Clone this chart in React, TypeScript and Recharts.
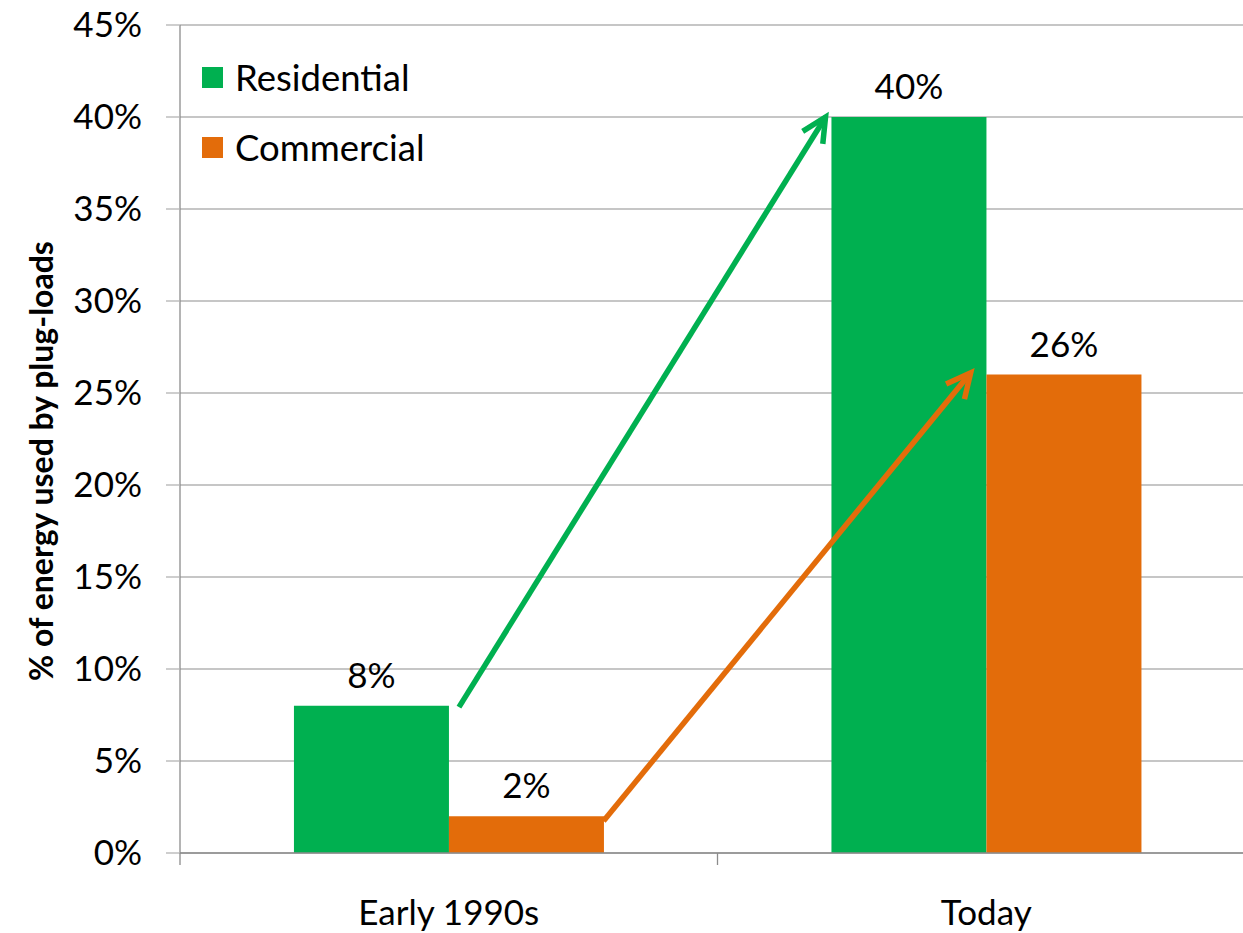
import React from 'react';
import {
  BarChart,
  Bar,
  ScatterChart,
  XAxis,
  YAxis,
  CartesianGrid,
  Legend,
  LabelList,
  ReferenceLine,
} from 'recharts';

const categories = ['Early 1990s', 'Today'];
const seriesNames = ['Residential', 'Commercial'];
const residential = [8, 40];
const commercial = [2, 26];
const yTicks = [0, 5, 10, 15, 20, 25, 30, 35, 40, 45];
const boundaryTicks = [0, 1, 2];
// arrow annotations, in data units (x: category position 0..2, y: percent)
const residentialArrow = [
  { x: 0.519, y: 7.93 },
  { x: 1.201, y: 40 },
];
const commercialArrow = [
  { x: 0.788, y: 1.74 },
  { x: 1.471, y: 26.1 },
];

const GREEN = '#00B050';
const ORANGE = '#E36C0A';
const FONT = 'Lato, "Open Sans", sans-serif';
const FS = 35;
const W = 1262;
const H = 933;
const MARGIN = { top: 25, right: 7, bottom: 0, left: 0 };
const Y_W = 180;
const X_H = 80;

const data = categories.map((c, i) => ({
  period: c,
  residential: residential[i],
  commercial: commercial[i],
}));

const makeArrow = (color: string) => (props: any) => {
  const { x1, y1, x2, y2 } = props;
  if ([x1, y1, x2, y2].some((v) => typeof v !== 'number' || isNaN(v))) return null;
  const ang = Math.atan2(y2 - y1, x2 - x1);
  const L = 27;
  const a = (26 * Math.PI) / 180;
  const p1x = x2 - L * Math.cos(ang - a);
  const p1y = y2 - L * Math.sin(ang - a);
  const p2x = x2 - L * Math.cos(ang + a);
  const p2y = y2 - L * Math.sin(ang + a);
  return (
    <g>
      <line x1={x1} y1={y1} x2={x2} y2={y2} stroke={color} strokeWidth={5.5} />
      <polyline
        points={`${p1x},${p1y} ${x2},${y2} ${p2x},${p2y}`}
        fill="none"
        stroke={color}
        strokeWidth={5.5}
        strokeLinejoin="miter"
      />
    </g>
  );
};

const renderLegend = (props: any) => {
  const payload = [...(props.payload || [])].sort(
    (a: any, b: any) => seriesNames.indexOf(a.value) - seriesNames.indexOf(b.value)
  );
  return (
    <div style={{ fontFamily: FONT, fontSize: 36.5, color: '#000' }}>
      {payload.map((p: any) => (
        <div
          key={p.value}
          style={{ display: 'flex', alignItems: 'center', height: 70, whiteSpace: 'nowrap' }}
        >
          <span
            style={{
              display: 'inline-block',
              width: 21,
              height: 21,
              background: p.color,
              marginRight: 12,
            }}
          />
          <span>{p.value}</span>
        </div>
      ))}
    </div>
  );
};

const renderYLabel = (props: any) => {
  const vb = props.viewBox || {};
  const cx = (vb.x ?? 0) + 40;
  const cy = (vb.y ?? 0) + (vb.height ?? 0) / 2 + 22;
  return (
    <text
      x={cx}
      y={cy}
      transform={`rotate(-90 ${cx} ${cy})`}
      textAnchor="middle"
      dominantBaseline="central"
      fontFamily={FONT}
      fontWeight="bold"
      fontSize={32}
      fill="#000"
    >
      % of energy used by plug-loads
    </text>
  );
};

const EmptyTick = () => <g />;

export default function App() {
  return (
    <div
      style={{
        position: 'absolute',
        left: 0,
        top: 0,
        width: 1243,
        height: 933,
        overflow: 'hidden',
        background: '#fff',
      }}
    >
      <div style={{ position: 'absolute', left: 0, top: 0 }}>
        <BarChart
          width={W}
          height={H}
          data={data}
          margin={MARGIN}
          barCategoryGap="21.2%"
          barGap={0}
        >
          <CartesianGrid vertical={false} stroke="#b3b3b3" strokeWidth={1.3} />
          <XAxis
            dataKey="period"
            type="category"
            axisLine={{ stroke: '#8c8c8c', strokeWidth: 1.3 }}
            tickLine={false}
            tickSize={0}
            tickMargin={47}
            height={X_H}
            tick={{ fill: '#000', fontSize: FS, fontFamily: FONT }}
          />
          <YAxis
            width={Y_W}
            domain={[0, 45]}
            ticks={yTicks}
            allowDataOverflow
            tickFormatter={(v: number) => `${v}%`}
            tick={{ fill: '#000', fontSize: FS, fontFamily: FONT }}
            tickLine={{ stroke: '#b3b3b3', strokeWidth: 1.3 }}
            tickSize={14}
            tickMargin={24}
            axisLine={{ stroke: '#8c8c8c', strokeWidth: 1.3 }}
            label={{ content: renderYLabel }}
          />
          <Legend
            layout="horizontal"
            verticalAlign="middle"
            align="center"
            content={renderLegend}
            wrapperStyle={{ left: 202, top: 42, width: 'auto', height: 'auto' }}
          />
          <Bar dataKey="residential" name="Residential" fill={GREEN} isAnimationActive={false}>
            <LabelList
              dataKey="residential"
              position="top"
              offset={18}
              formatter={(v: any) => `${v}%`}
              fill="#000"
              fontSize={FS}
              fontFamily={FONT}
            />
          </Bar>
          <Bar dataKey="commercial" name="Commercial" fill={ORANGE} isAnimationActive={false}>
            <LabelList
              dataKey="commercial"
              position="top"
              offset={18}
              formatter={(v: any) => `${v}%`}
              fill="#000"
              fontSize={FS}
              fontFamily={FONT}
            />
          </Bar>
        </BarChart>
      </div>
      <div style={{ position: 'absolute', left: 0, top: 0, pointerEvents: 'none' }}>
        <ScatterChart
          width={W}
          height={H}
          margin={{ top: MARGIN.top, right: MARGIN.right, bottom: MARGIN.bottom, left: MARGIN.left + Y_W }}
        >
          <XAxis
            type="number"
            dataKey="x"
            domain={[0, 2]}
            allowDataOverflow
            ticks={boundaryTicks}
            interval={0}
            tick={EmptyTick}
            tickLine={{ stroke: '#8c8c8c', strokeWidth: 1.3 }}
            tickSize={12}
            axisLine={false}
            height={X_H}
          />
          <YAxis type="number" dataKey="y" domain={[0, 45]} allowDataOverflow hide />
          <ReferenceLine
            segment={residentialArrow}
            ifOverflow="visible"
            shape={makeArrow(GREEN)}
          />
          <ReferenceLine
            segment={commercialArrow}
            ifOverflow="visible"
            shape={makeArrow(ORANGE)}
          />
        </ScatterChart>
      </div>
    </div>
  );
}
